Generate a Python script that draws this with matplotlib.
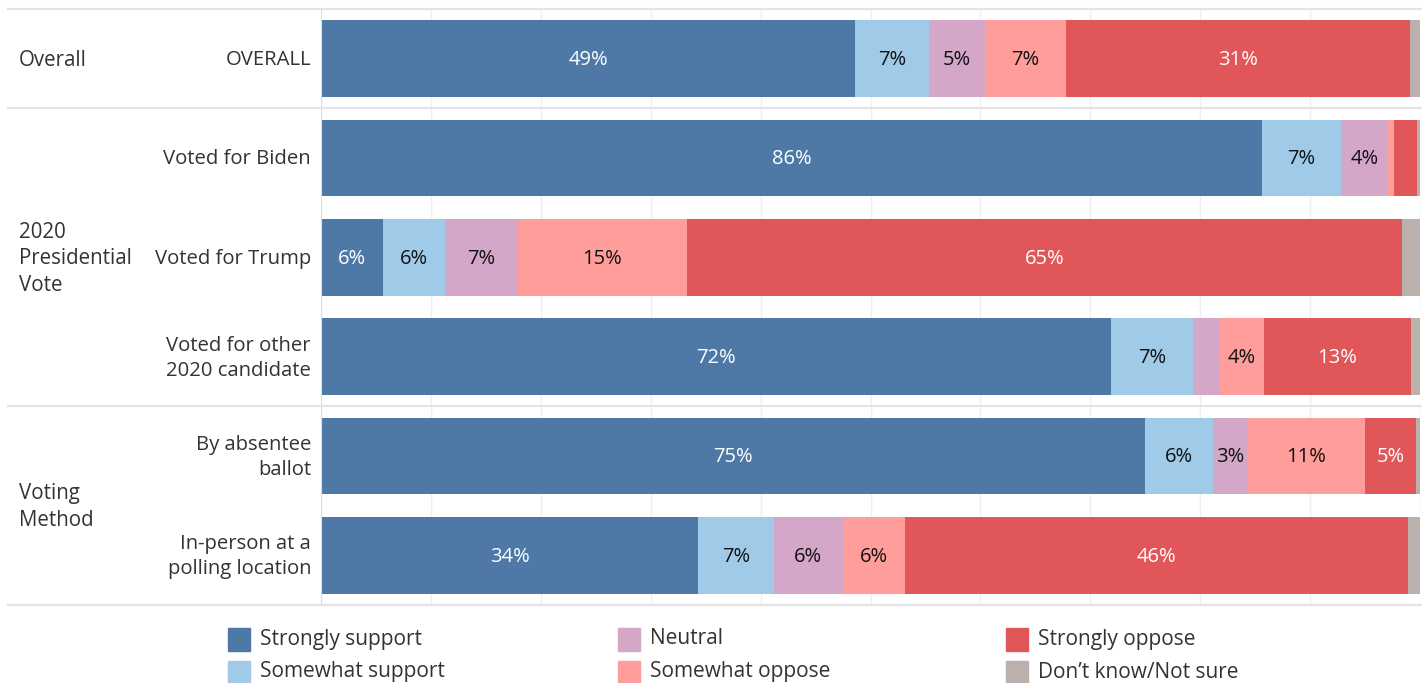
import numpy as np
import matplotlib
matplotlib.use('Agg')
import matplotlib.pyplot as plt
from matplotlib.patches import Rectangle
from matplotlib.lines import Line2D
import matplotlib.transforms as mtransforms

plt.rcParams['font.family'] = ['Open Sans', 'DejaVu Sans']

# data (percent of respondents)
rows = ['OVERALL', 'Voted for Biden', 'Voted for Trump',
        'Voted for other\n2020 candidate', 'By absentee\nballot',
        'In-person at a\npolling location']
groups = ['Overall', '2020\nPresidential\nVote', 'Voting\nMethod']
group_rows = [(0, 0), (1, 3), (4, 5)]
categories = ['Strongly support', 'Somewhat support', 'Neutral',
              'Somewhat oppose', 'Strongly oppose', "Don\u2019t know/Not sure"]
strongly_support = [48.6, 85.6, 5.6, 71.9, 75.0, 34.3]
somewhat_support = [6.7, 7.2, 5.7, 7.4, 6.2, 6.9]
neutral = [5.1, 4.3, 6.6, 2.5, 3.1, 6.3]
somewhat_oppose = [7.4, 0.5, 15.4, 4.0, 10.7, 5.6]
strongly_oppose = [31.3, 2.1, 65.1, 13.4, 4.6, 45.8]
dont_know = [0.9, 0.3, 1.6, 0.8, 0.4, 1.1]

series = [strongly_support, somewhat_support, neutral,
          somewhat_oppose, strongly_oppose, dont_know]
colors = ['#4E79A7', '#A0CBE8', '#D4A6C8', '#FF9D9A', '#E15759', '#BAB0AC']
text_colors = ['white', '#111111', '#111111', '#111111', 'white', '#111111']
txt = '#333333'

W, H = 1422, 683
fig = plt.figure(figsize=(W / 100, H / 100), dpi=100)
ax = fig.add_axes([321 / W, 1 - 605 / H, (1420 - 321) / W, (605 - 9) / H])

y = np.arange(len(rows))
left = np.zeros(len(rows))
for vals, c, tc in zip(series, colors, text_colors):
    vals = np.array(vals)
    ax.barh(y, vals, left=left, height=0.775, color=c, zorder=2)
    for yi, (l, v) in enumerate(zip(left, vals)):
        if v >= 3:
            ax.text(l + v / 2, yi + 0.015, f'{int(round(v))}%', ha='center', va='center',
                    color=tc, fontsize=14.5, zorder=3)
    left = left + vals

ax.set_xlim(0, 100)
ax.set_ylim(5.5, -0.5)
ax.set_xticks(np.arange(0, 101, 10))
ax.set_yticks([])
ax.tick_params(axis='x', length=0, labelbottom=False)
ax.grid(axis='x', color='#efefef', lw=1, zorder=0)
for s in ['top', 'right', 'bottom']:
    ax.spines[s].set_visible(False)
ax.spines['left'].set_color('#dddddd')

# row labels
for yi, r in enumerate(rows):
    ax.text(-0.9, yi + 0.015, r, ha='right', va='center', fontsize=14.6, color=txt,
            linespacing=1.35)

# group labels and separators
trans = mtransforms.blended_transform_factory(fig.transFigure, ax.transData)
for g, (a, b) in zip(groups, group_rows):
    ax.text(19 / W, (a + b) / 2 + 0.015, g, transform=trans, ha='left', va='center',
            fontsize=14.8, color=txt, linespacing=1.35)
for sy in [-0.5, 0.5, 3.5, 5.5]:
    fig.add_artist(Line2D([8 / W, 1], [sy, sy], transform=trans,
                          color='#e3e3e3', lw=1.5))

# legend
leg_x = [228, 618, 1006]
leg_y = [639, 672]
for i, (cat, c) in enumerate(zip(categories, colors)):
    lx = leg_x[i // 2]
    ly = leg_y[i % 2]
    fig.add_artist(Rectangle((lx / W, 1 - (ly + 11.5) / H), 22 / W, 23 / H,
                             transform=fig.transFigure, color=c))
    fig.text((lx + 32) / W, 1 - ly / H, cat, ha='left', va='center',
             fontsize=15, color=txt)

fig.savefig('out.png', dpi=100)
